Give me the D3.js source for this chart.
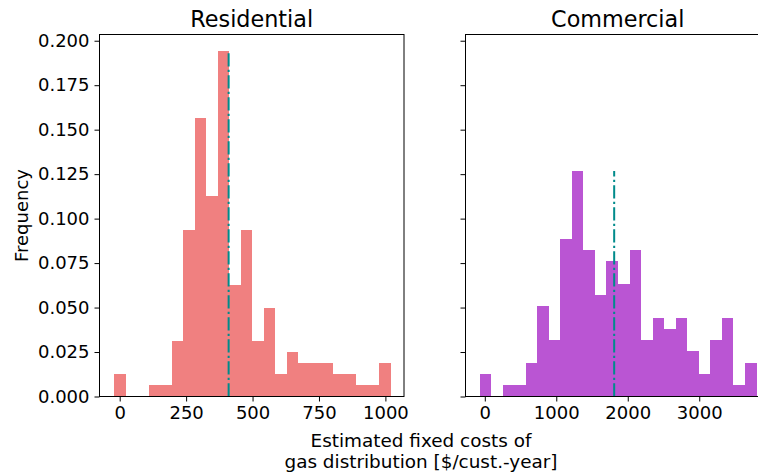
<!DOCTYPE html>
<html>
<head>
<meta charset="utf-8">
<script src="https://cdn.jsdelivr.net/npm/d3@7"></script>
<style>
  body { margin: 0; background: #fff; }
  svg { display: block; font-family: "DejaVu Sans", sans-serif; }
</style>
</head>
<body>
<script>
const width = 758;
const height = 474;

// histogram data
const panelTitles = ['Residential', 'Commercial'];
const resRange = [-21.5, 1020];
const resFreq = [0.0128, 0, 0, 0.0066, 0.0066, 0.0313, 0.0937, 0.1564, 0.1129, 0.1942,
  0.0628, 0.0937, 0.0313, 0.050, 0.0128, 0.025, 0.019, 0.019, 0.019, 0.0128,
  0.0128, 0.0066, 0.0066, 0.019];
const resMean = 410;
const comRange = [-74, 3801.6];
const comFreq = [0.0128, 0, 0.0066, 0.0066, 0.019, 0.051, 0.0319, 0.0887, 0.1268, 0.0826,
  0.0572, 0.0764, 0.0634, 0.0826, 0.0319, 0.0443, 0.0381, 0.0443, 0.0257, 0.0128,
  0.0319, 0.0443, 0.0066, 0.019];
const comMean = 1810;
const yTicks = [0, 0.025, 0.05, 0.075, 0.1, 0.125, 0.15, 0.175, 0.2];
const resTicks = [0, 250, 500, 750, 1000];
const comTicks = [0, 1000, 2000, 3000];

const axTop = 34.5;
const axBottom = 396.5;
const axW = 304.5;

const svg = d3.select('body')
  .append('svg')
  .attr('width', width)
  .attr('height', height);

const yScale = d3.scaleLinear()
  .domain([0, 0.2035])
  .range([axBottom, axTop]);

const panels = [
  { title: panelTitles[0], left: 99.5, range: resRange, freq: resFreq, mean: resMean,
    domain: [-76, 1070], ticks: resTicks, color: '#F08080', labels: true },
  { title: panelTitles[1], left: 465.5, range: comRange, freq: comFreq, mean: comMean,
    domain: [-270, 3990], ticks: comTicks, color: '#BA55D3', labels: false }
];

panels.forEach(function (p) {
  const xScale = d3.scaleLinear()
    .domain(p.domain)
    .range([p.left, p.left + axW]);

  const binW = (p.range[1] - p.range[0]) / p.freq.length;
  const bins = p.freq.map(function (f, j) {
    return { x0: p.range[0] + j * binW, x1: p.range[0] + (j + 1) * binW, f: f };
  });

  const g = svg.append('g');

  g.selectAll('rect')
    .data(bins.filter(function (d) { return d.f > 0; }))
    .enter()
    .append('rect')
    .attr('x', function (d) { return xScale(d.x0); })
    .attr('width', function (d) { return xScale(d.x1) - xScale(d.x0); })
    .attr('y', function (d) { return yScale(d.f); })
    .attr('height', function (d) { return yScale(0) - yScale(d.f); })
    .attr('fill', p.color)
    .attr('shape-rendering', 'crispEdges');

  g.append('line')
    .attr('x1', xScale(p.mean))
    .attr('x2', xScale(p.mean))
    .attr('y1', yScale(0))
    .attr('y2', yScale(d3.max(p.freq)))
    .attr('stroke', '#008B8B')
    .attr('stroke-width', 2)
    .attr('stroke-dasharray', '13.3,3.3,2.1,3.3');

  // frame
  g.append('rect')
    .attr('x', p.left)
    .attr('y', axTop)
    .attr('width', axW)
    .attr('height', axBottom - axTop)
    .attr('fill', 'none')
    .attr('stroke', '#000')
    .attr('stroke-width', 1);

  const xAxis = d3.axisBottom(xScale)
    .tickValues(p.ticks)
    .tickSize(5)
    .tickPadding(5)
    .tickFormat(d3.format('d'));

  const gx = g.append('g')
    .attr('transform', `translate(0, ${axBottom})`)
    .call(xAxis);
  gx.select('.domain').remove();
  gx.selectAll('text')
    .attr('font-size', '18px')
    .attr('font-family', 'DejaVu Sans')
    .attr('fill', '#000');

  const yAxis = d3.axisLeft(yScale)
    .tickValues(yTicks)
    .tickSize(5)
    .tickPadding(5)
    .tickFormat(p.labels ? d3.format('.3f') : '');

  const gy = g.append('g')
    .attr('transform', `translate(${p.left}, 0)`)
    .call(yAxis);
  gy.select('.domain').remove();
  gy.selectAll('text')
    .attr('font-size', '18px')
    .attr('font-family', 'DejaVu Sans')
    .attr('fill', '#000');

  g.append('text')
    .attr('x', p.left + axW / 2)
    .attr('y', 27)
    .attr('text-anchor', 'middle')
    .attr('font-size', '22.3px')
    .attr('fill', '#000')
    .text(p.title);
});

svg.append('text')
  .attr('transform', `translate(28, ${(axTop + axBottom) / 2}) rotate(-90)`)
  .attr('text-anchor', 'middle')
  .attr('font-size', '18px')
  .attr('fill', '#000')
  .text('Frequency');

const xLabel = svg.append('text')
  .attr('text-anchor', 'middle')
  .attr('font-size', '18.4px')
  .attr('fill', '#000');
xLabel.append('tspan')
  .attr('x', 421)
  .attr('y', 447)
  .text('Estimated fixed costs of');
xLabel.append('tspan')
  .attr('x', 421)
  .attr('y', 468)
  .text('gas distribution [$/cust.-year]');
</script>
</body>
</html>
